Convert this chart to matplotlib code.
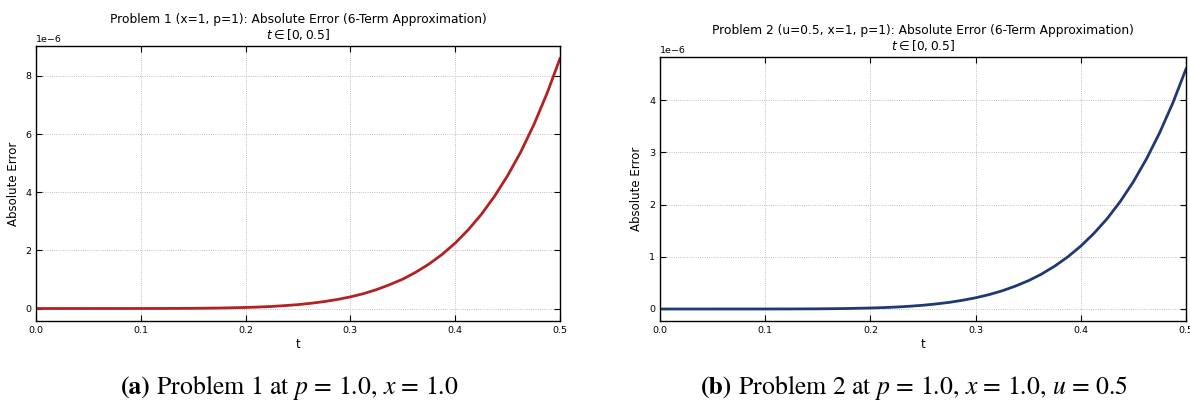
import matplotlib
matplotlib.use("Agg")
import matplotlib.pyplot as plt
import numpy as np

# values (absolute error, in units of 1e-6)
t_vals = [0.0, 0.025, 0.05, 0.075, 0.1, 0.125, 0.15, 0.175, 0.2, 0.2125, 0.225, 0.2375,
          0.25, 0.2625, 0.275, 0.2875, 0.3, 0.3125, 0.325, 0.3375, 0.35, 0.3625, 0.375,
          0.3875, 0.4, 0.4125, 0.425, 0.4375, 0.45, 0.4625, 0.475, 0.4875, 0.5]
err_p1 = [0.0, 0.0, 0.0, 0.0001, 0.0005, 0.002, 0.006, 0.016, 0.035, 0.051, 0.071, 0.099,
          0.134, 0.18, 0.238, 0.31, 0.40, 0.51, 0.65, 0.82, 1.01, 1.25, 1.53,
          1.86, 2.25, 2.71, 3.24, 3.86, 4.57, 5.38, 6.32, 7.39, 8.6]
err_p2 = [0.0, 0.0, 0.0, 0.0001, 0.0003, 0.001, 0.0034, 0.0085, 0.019, 0.027, 0.038, 0.053,
          0.072, 0.097, 0.127, 0.167, 0.215, 0.274, 0.347, 0.436, 0.541, 0.667, 0.819,
          0.997, 1.206, 1.45, 1.73, 2.06, 2.44, 2.88, 3.38, 3.95, 4.6]

titles = ["Problem 1 (x=1, p=1): Absolute Error (6-Term Approximation)\n$t \\in [0, 0.5]$",
          "Problem 2 (u=0.5, x=1, p=1): Absolute Error (6-Term Approximation)\n$t \\in [0, 0.5]$"]
captions = [("(a)", " Problem 1 at $p$ = 1.0, $x$ = 1.0"),
            ("(b)", " Problem 2 at $p$ = 1.0, $x$ = 1.0, $u$ = 0.5")]
colors = ["#b22222", "#1f3a73"]

plt.rcParams["mathtext.fontset"] = "dejavusans"

fig = plt.figure(figsize=(11.9, 4.03), dpi=100)
ax1 = fig.add_axes([36 / 1190, 1 - 321 / 403, 524 / 1190, 275 / 403])
ax2 = fig.add_axes([660 / 1190, 1 - 321 / 403, 526 / 1190, 264 / 403])

t = np.array(t_vals)
for ax, err, title, color in zip([ax1, ax2], [err_p1, err_p2], titles, colors):
    ax.plot(t, np.array(err) * 1e-6, color=color, linewidth=2)
    ax.set_xlim(0, 0.5)
    ax.set_title(title, fontsize=8.8, linespacing=1.05, pad=5)
    ax.set_xlabel("t", fontsize=8.5, labelpad=2)
    ax.set_ylabel("Absolute Error", fontsize=8.5, labelpad=4)
    ax.grid(True, linestyle=":", linewidth=0.6, color="#aaaaaa")
    ax.tick_params(direction="in", top=True, right=True, labelsize=6.8, length=4)
    ax.yaxis.get_offset_text().set_fontsize(6.8)
    for s in ax.spines.values():
        s.set_linewidth(1.0)

ax1.set_yticks([0, 2e-6, 4e-6, 6e-6, 8e-6])
ax2.set_yticks([0, 1e-6, 2e-6, 3e-6, 4e-6])

for xc, (lab, rest) in zip([289 / 1190, 914 / 1190], captions):
    txt = fig.text(xc, 1 - 388 / 403, lab + rest, ha="center", va="center", alpha=0,
                   fontsize=18.5, family="STIXGeneral", math_fontfamily="stix")
    fig.canvas.draw()
    bb = txt.get_window_extent()
    x0 = bb.x0 / fig.bbox.width
    txt.remove()
    a = fig.text(x0, 1 - 388 / 403, lab, ha="left", va="center", fontsize=18.5,
                 family="STIXGeneral", weight="bold")
    fig.canvas.draw()
    bb2 = a.get_window_extent()
    fig.text(bb2.x1 / fig.bbox.width, 1 - 388 / 403, rest, ha="left", va="center",
             fontsize=18.5, family="STIXGeneral", math_fontfamily="stix")

fig.savefig("out.png", dpi=100)
